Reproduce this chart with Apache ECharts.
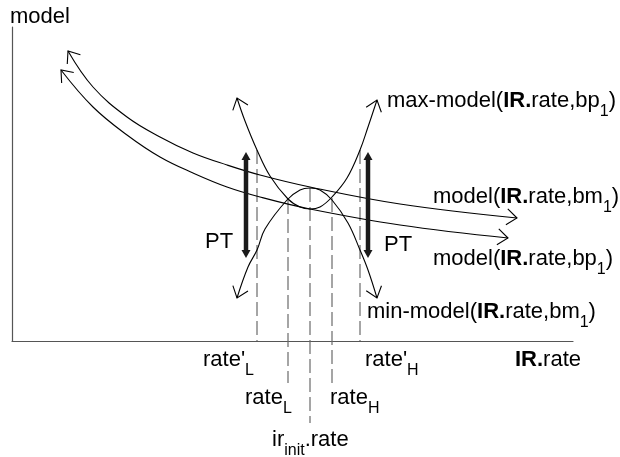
<!DOCTYPE html>
<html><head><meta charset="utf-8">
<script src="https://cdn.jsdelivr.net/npm/echarts@6/dist/echarts.min.js"></script>
<style>html,body{margin:0;padding:0;background:#fff}#c{width:620px;height:457px}</style>
</head><body><div id="c"></div>
<script>
// ---- data (x = IR.rate, y = model) ----
const modelBm1 = [[56,290],[81,254],[115,224],[148,204],[181,188],[215,176],[248,166],[298,154],[388,137],[505,123]];
const modelBp1 = [[49,271],[81,234],[115,206],[148,184],[181,168],[215,154],[248,144],[298,132],[388,116],[496,103]];
const maxModelBp1 = [[225,243],[233,220],[245,191],[258,165],[276,142],[288,134],[298,132],[308,134],[320,144],[335,163],[348,191],[356,214],[365,241]];
const minModelBm1 = [[225,43],[236,74],[245,91],[253,112],[275,141],[288,151],[298,153],[308,151],[320,141],[336,118],[348,91],[356,71],[365,43]];
// guide lines: rate'L, rateL, ir_init.rate, rateH, rate'H
const guideX      = [245, 276, 298, 320, 348];
const guideTop    = [191, 141, 153, 143, 191];
const guideBottom = [0, -42, -82, -42, 0];
// PT double arrows
const ptX = [234, 356];
const ptTop = [189, 189];
const ptBottom = [83, 83];

const curves = [modelBm1, modelBp1, maxModelBp1, minModelBm1];

const chart = echarts.init(document.getElementById('c'), null, {renderer:'canvas'});
const FONT = '"Liberation Sans", Arial, Helvetica, sans-serif';
const MAIN = 22, SUB = 16, SUB_DY = 9;
const ctx = document.createElement('canvas').getContext('2d');
function fstr(size, bold){ return (bold ? 'bold ' : '') + size + 'px ' + FONT; }
function midOff(f){ ctx.font = f; ctx.textBaseline = 'middle'; return ctx.measureText('H').actualBoundingBoxDescent; }
function label(pieces, x, baseline){
  const els = []; let cx = x;
  pieces.forEach(p => {
    const size = p.sub ? SUB : MAIN;
    const f = fstr(size, p.b);
    ctx.font = f;
    const w = ctx.measureText(p.t).width;
    const bl = baseline + (p.sub ? SUB_DY : 0);
    els.push({type:'text', x:cx, y: bl - midOff(f), silent:true,
      style:{text:p.t, font:f, fill:'#000', textFill:'#000', align:'left', textAlign:'left', verticalAlign:'middle', textVerticalAlign:'middle'}});
    cx += w;
  });
  return els;
}
const labels = [
  {p:[{t:'model'}], x:10, y:23},
  {p:[{t:'max-model('},{t:'IR.',b:1},{t:'rate,bp'},{t:'1',sub:1},{t:')'}], x:387, y:107},
  {p:[{t:'model('},{t:'IR.',b:1},{t:'rate,bm'},{t:'1',sub:1},{t:')'}], x:433, y:203},
  {p:[{t:'model('},{t:'IR.',b:1},{t:'rate,bp'},{t:'1',sub:1},{t:')'}], x:433, y:265},
  {p:[{t:'min-model('},{t:'IR.',b:1},{t:'rate,bm'},{t:'1',sub:1},{t:')'}], x:367, y:318},
  {p:[{t:'PT'}], x:205, y:248},
  {p:[{t:'PT'}], x:384, y:251},
  {p:[{t:"rate'"},{t:'L',sub:1}], x:203, y:366},
  {p:[{t:"rate'"},{t:'H',sub:1}], x:365, y:366},
  {p:[{t:'IR.',b:1},{t:'rate'}], x:515, y:366},
  {p:[{t:'rate'},{t:'L',sub:1}], x:245, y:404},
  {p:[{t:'rate'},{t:'H',sub:1}], x:330, y:404},
  {p:[{t:'ir'},{t:'init',sub:1},{t:'.rate'}], x:272, y:446}
];
let graphics = [];
labels.forEach(l => { graphics = graphics.concat(label(l.p, l.x, l.y)); });

// arrow-head data: tip + neighbouring point of each curve end
const arrowData = [];
curves.forEach(c => {
  arrowData.push([c[0][0], c[0][1], c[1][0], c[1][1]]);
  const n = c.length;
  arrowData.push([c[n-1][0], c[n-1][1], c[n-2][0], c[n-2][1]]);
});

const guideData = guideX.map((x,i) => [x, guideTop[i], guideBottom[i]]);
const ptData = ptX.map((x,i) => [x, ptTop[i], ptBottom[i]]);

const lineStyle = {color:'#000', width:1.1};
const series = curves.map(c => ({
  type:'line', data:c, smooth:0.4, showSymbol:false, symbol:'none', lineStyle, clip:false, silent:true, z:3
}));
series.push({
  type:'custom', data:arrowData, clip:false, silent:true, z:4,
  renderItem(params, api){
    const p = api.coord([api.value(0), api.value(1)]);
    const q = api.coord([api.value(2), api.value(3)]);
    let dx = p[0]-q[0], dy = p[1]-q[1];
    const len = Math.hypot(dx,dy); dx/=len; dy/=len;
    const L = 13, a = 38*Math.PI/180;
    const arm = s => { const c = Math.cos(s*a), sn = Math.sin(s*a);
      const bx = -dx, by = -dy; return [p[0] + L*(bx*c - by*sn), p[1] + L*(bx*sn + by*c)]; };
    return {type:'polyline', shape:{points:[arm(1), p, arm(-1)]}, style:{stroke:'#000', lineWidth:1.1, fill:null}};
  }
});
series.push({
  type:'custom', data:guideData, clip:false, silent:true, z:2,
  renderItem(params, api){
    const a = api.coord([api.value(0), api.value(1)]);
    const b = api.coord([api.value(0), api.value(2)]);
    return {type:'line', shape:{x1:a[0], y1:a[1], x2:b[0], y2:b[1]}, style:{stroke:'#6a6a6a', lineWidth:1.2, lineDash:[14,5]}};
  }
});
series.push({
  type:'custom', data:ptData, clip:false, silent:true, z:5,
  renderItem(params, api){
    const a = api.coord([api.value(0), api.value(1)]);
    const b = api.coord([api.value(0), api.value(2)]);
    const x = a[0], hl = 8, hw = 4.5;
    return {type:'group', children:[
      {type:'line', shape:{x1:x, y1:a[1]+hl-1, x2:x, y2:b[1]-hl+1}, style:{stroke:'#1a1a1a', lineWidth:4.5}},
      {type:'polygon', shape:{points:[[x,a[1]],[x-hw,a[1]+hl],[x+hw,a[1]+hl]]}, style:{fill:'#1a1a1a'}},
      {type:'polygon', shape:{points:[[x,b[1]],[x-hw,b[1]-hl],[x+hw,b[1]-hl]]}, style:{fill:'#1a1a1a'}}
    ]};
  }
});

const axisCommon = {
  type:'value', axisTick:{show:false}, axisLabel:{show:false}, splitLine:{show:false},
  axisLine:{show:true, lineStyle:{color:'#555', width:1.2}}
};
chart.setOption({
  animation:false,
  backgroundColor:'#fff',
  grid:{left:12, top:27, width:561, height:314},
  xAxis:Object.assign({min:0, max:561}, axisCommon),
  yAxis:Object.assign({min:0, max:314}, axisCommon),
  series,
  graphic:{elements:graphics}
});
</script></body></html>
